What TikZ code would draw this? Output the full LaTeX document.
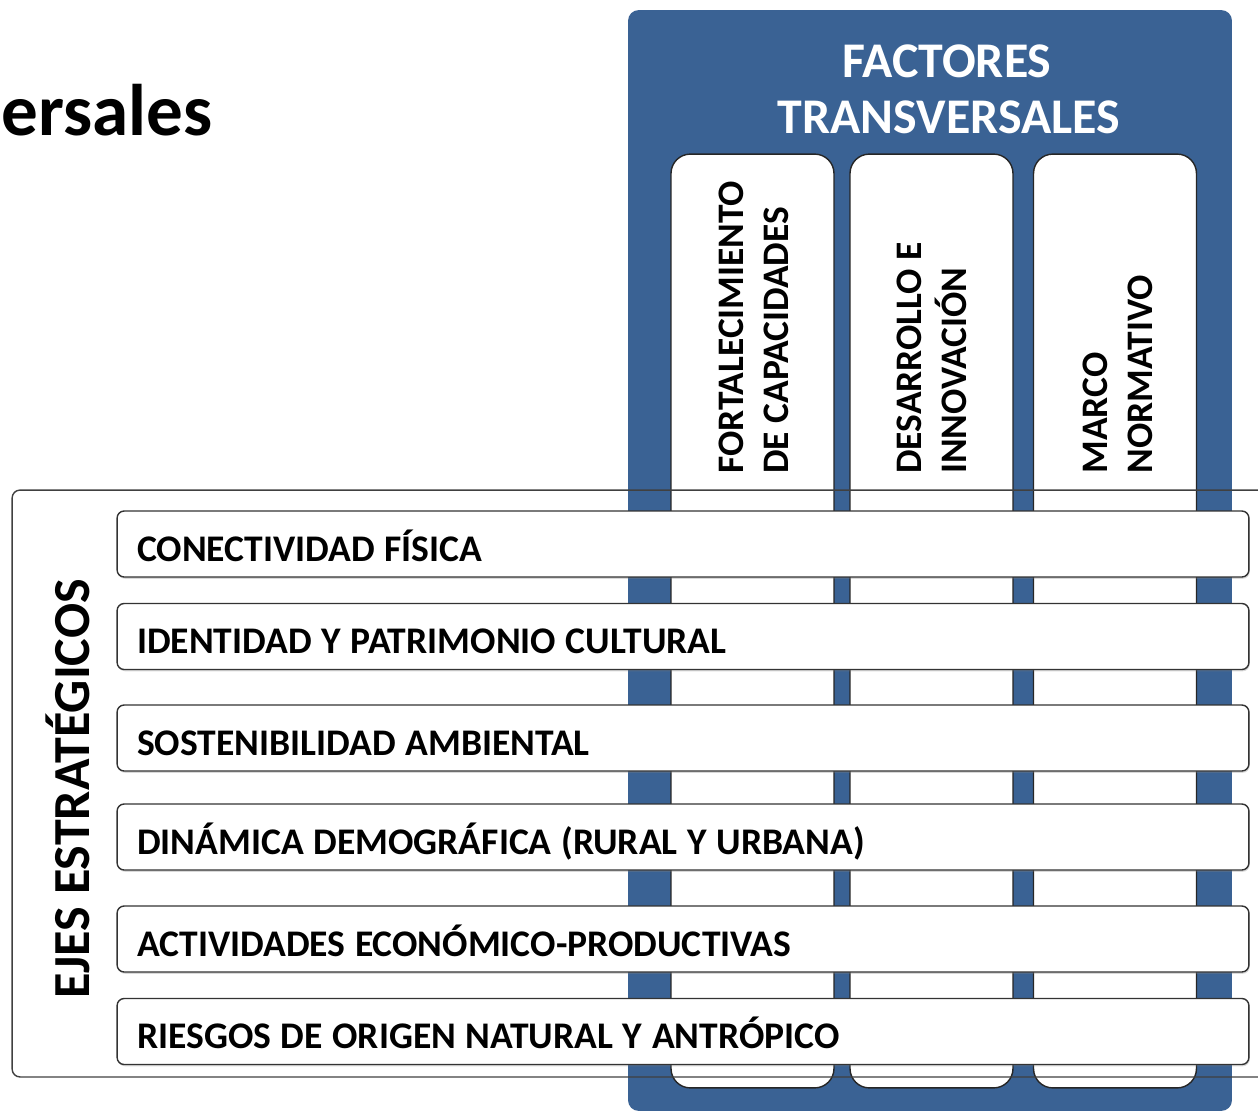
\documentclass[tikz,border=0pt]{standalone}
\usepackage{fontspec}
\setmainfont{Carlito}
\usetikzlibrary{shadows}
\definecolor{panelblue}{RGB}{58,98,148}

\tikzset{
  eje/.style={draw=black!80, fill=white, line width=0.8pt, rounded corners=4pt,
    minimum width=22.64cm, minimum height=1.32cm, text width=21.84cm, inner xsep=0.4cm,
    text height=19.5pt, text depth=0pt, align=left,
    font=\bfseries\fontsize{21.4}{26}\selectfont,
    execute at begin node={\spaceskip=0.255em\relax},
    drop shadow={opacity=0.3, shadow xshift=0.5pt, shadow yshift=-1pt}},
  factor/.style={draw=black!85, fill=white, line width=0.8pt, rounded corners=11pt,
    minimum width=3.26cm, minimum height=18.68cm},
  factortxt/.style={rotate=90, anchor=west, align=left, inner sep=0pt,
    font=\bfseries\fontsize{21.3}{26}\selectfont},
  titulo/.style={inner sep=0pt, font=\bfseries\fontsize{28.4}{32}\selectfont, text=white}
}

\begin{document}
\begin{tikzpicture}[x=0.02cm, y=-0.02cm]
  \useasboundingbox (0,0) rectangle (1258,1112);
  % title
  \node[anchor=base east, inner sep=0pt, font=\bfseries\fontsize{41.6}{50}\selectfont] (tit) at (213,135) {ersales};
  % factores transversales
  \node[fill=panelblue, rounded corners=6pt, minimum width=12.08cm, minimum height=22.02cm, inner sep=0pt] (panel) at (930,560.5) {};
  \node[titulo, anchor=base] (fac1) at (947,77) {FACTORES};
  \node[titulo, anchor=base] (fac2) at (949,133) {TRANSVERSALES};
  \foreach \cx/\nm in {752.5/f1, 931.5/f2, 1115/f3}
    \node[factor] (\nm) at (\cx,621) {};
  \node[factortxt] (t1) at (754,474) {FORTALECIMIENTO\\DE CAPACIDADES};
  \node[factortxt] (t2) at (932,474) {DESARROLLO E\\INNOVACIÓN};
  \node[factortxt] (t3) at (1118,474) {MARCO\\NORMATIVO};
  % ejes estrategicos
  \node[draw=black!75, line width=0.8pt, rounded corners=4.5pt, minimum width=25.56cm, minimum height=11.74cm, inner sep=0pt] (marco) at (651,783.5) {};
  \node[rotate=90, inner sep=0pt, font=\bfseries\fontsize{29.6}{32}\selectfont] (ejes) at (68,789) {EJES ESTRATÉGICOS};
  \foreach \y/\nm/\txt in {544/e1/CONECTIVIDAD FÍSICA, 636.5/e2/IDENTIDAD Y PATRIMONIO CULTURAL,
      738/e3/SOSTENIBILIDAD AMBIENTAL, 837/e4/DINÁMICA DEMOGRÁFICA (RURAL Y URBANA),
      939/e5/ACTIVIDADES ECONÓMICO-PRODUCTIVAS, 1031.5/e6/RIESGOS DE ORIGEN NATURAL Y ANTRÓPICO}
    \node[eje] (\nm) at (683,\y) {\txt};
\end{tikzpicture}
\end{document}
